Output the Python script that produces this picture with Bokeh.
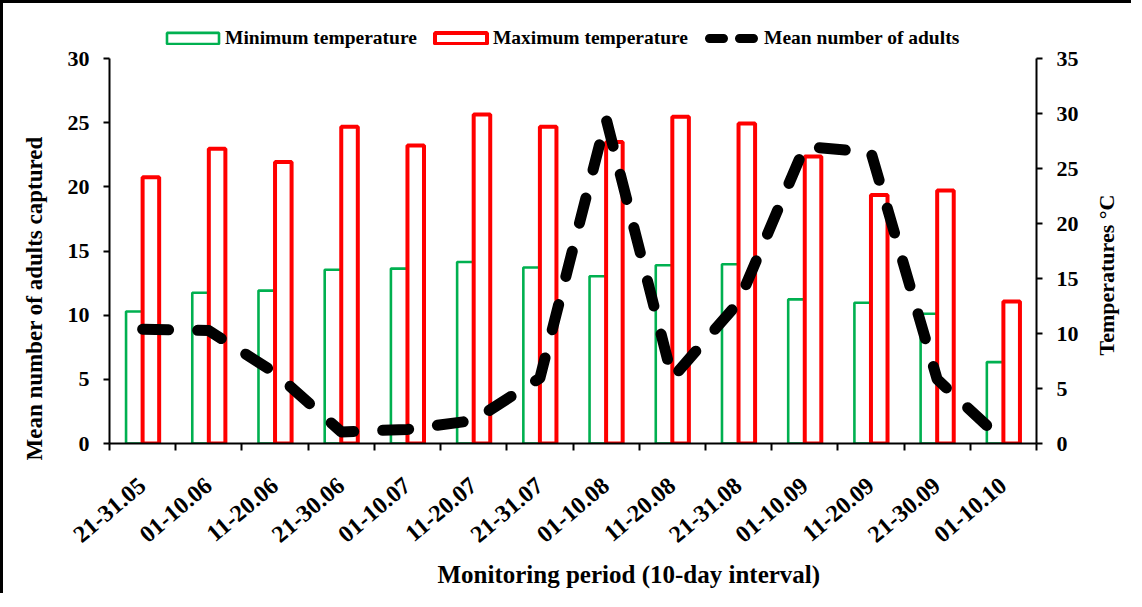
import math
import numpy as np
from bokeh.plotting import figure
from bokeh.models import (Range1d, LinearAxis, FixedTicker, SingleIntervalTicker,
                          CustomJSTickFormatter, Legend, LegendItem, ColumnDataSource, Title)
from bokeh.transform import dodge
from bokeh.embed import file_html
from bokeh.resources import INLINE

periods = ["21-31.05", "01-10.06", "11-20.06", "21-30.06", "01-10.07", "11-20.07",
           "21-31.07", "01-10.08", "11-20.08", "21-31.08", "01-10.09", "11-20.09",
           "21-30.09", "01-10.10"]
min_temp = [12.0, 13.7, 13.9, 15.8, 15.9, 16.5, 16.0, 15.2, 16.2, 16.3, 13.1, 12.8, 11.8, 7.4]
max_temp = [24.2, 26.8, 25.6, 28.8, 27.1, 29.9, 28.8, 27.4, 29.7, 29.1, 26.1, 22.6, 23.0, 12.9]
mean_adults = [8.9, 8.8, 5.5, 0.9, 1.1, 1.8, 5.1, 25.3, 5.1, 11.0, 23.15, 22.7, 5.0, 0.2]
left_max, right_max = 30, 35

FONT = "Liberation Serif"
GREEN = "#00B050"
RED = "#FF0000"

# layout (pixels): frame spans from top 30 to bottom 451 on the page; the axes occupy 66..451
FRAME_TOP, AXIS_TOP, AXIS_BOTTOM = 30, 66, 451
stretch = (AXIS_BOTTOM - FRAME_TOP) / (AXIS_BOTTOM - AXIS_TOP)

n = len(periods)
xc = np.arange(n) + 0.5
src = ColumnDataSource(dict(x=xc, period=periods, tmin=min_temp, tmax=max_temp, adults=mean_adults))

p = figure(width=1131, height=593, output_backend="svg", toolbar_location=None,
           x_range=Range1d(0, n), y_range=Range1d(0, left_max * stretch),
           min_border_left=106, min_border_right=90, min_border_top=FRAME_TOP - 11,
           min_border_bottom=153,
           styles={"border-left": "3px solid black", "border-top": "3px solid black"})
p.outline_line_color = None
p.xgrid.visible = False
p.ygrid.visible = False
p.background_fill_color = "white"
p.border_fill_color = "white"

p.extra_y_ranges = {"temp": Range1d(0, right_max * stretch)}

g_min = p.vbar(x=dodge("x", -0.125), top="tmin", bottom=0, width=0.25, source=src,
               y_range_name="temp", fill_color="white", line_color=GREEN, line_width=2.6)
g_max = p.vbar(x=dodge("x", 0.125), top="tmax", bottom=0, width=0.25, source=src,
               y_range_name="temp", fill_color="white", line_color=RED, line_width=4)
g_line = p.line(x="x", y="adults", source=src, line_color="black", line_width=11,
                line_dash="26 29", line_cap="round", line_join="round")
leg_line = p.line(x="x", y="adults", source=src, line_color="black", line_width=9,
                  line_dash="14 16", line_dash_offset=20, line_cap="round", visible=False)


def style_axis(ax):
    ax.axis_line_color = "black"
    ax.axis_line_width = 2
    ax.major_tick_line_color = "black"
    ax.major_tick_line_width = 2
    ax.minor_tick_line_color = None
    ax.major_label_text_font = FONT
    ax.major_label_text_font_style = "bold"
    ax.major_label_text_font_size = "22px"
    ax.major_label_text_color = "black"
    ax.axis_label_text_font = FONT
    ax.axis_label_text_font_style = "bold"
    ax.axis_label_text_color = "black"


def style_title(t, size):
    t.text_font = FONT
    t.text_font_style = "bold"
    t.text_font_size = size
    t.text_color = "black"


ya = p.yaxis[0]
style_axis(ya)
ya.ticker = SingleIntervalTicker(interval=5)
ya.bounds = (0, left_max)
ya.major_tick_out = 6
ya.major_tick_in = 0
ya.major_label_standoff = 14

ytitle = Title(text="Mean number of adults captured", align="left", offset=-17,
               vertical_align="middle", standoff=33)
style_title(ytitle, "23px")
p.add_layout(ytitle, "left")

ra = LinearAxis(y_range_name="temp", ticker=SingleIntervalTicker(interval=5))
style_axis(ra)
ra.bounds = (0, right_max)
ra.major_tick_out = 6
ra.major_tick_in = 0
ra.major_label_standoff = 14
ra.axis_label = "\u00a0" * 16 + "Temperatures °C"
ra.axis_label_text_font_size = "22px"
ra.axis_label_standoff = 25
try:
    ra.axis_label_orientation = math.pi / 2
    ra.axis_label_align = "start"
except Exception:
    pass
p.add_layout(ra, "right")

xa = p.xaxis[0]
style_axis(xa)
xa.ticker = FixedTicker(ticks=list(xc), minor_ticks=list(range(n + 1)))
xa.formatter = CustomJSTickFormatter(args=dict(labels=periods),
                                     code="return labels[Math.floor(tick)];")
xa.major_tick_out = 0
xa.major_tick_in = 0
xa.minor_tick_line_color = "black"
xa.minor_tick_line_width = 2
xa.minor_tick_out = 7
xa.minor_tick_in = 0
xa.major_label_orientation = 0.7
xa.major_label_text_font_size = "24px"
xa.major_label_standoff = 32

xtitle = Title(text="Monitoring period (10-day interval)", align="left", offset=328,
               vertical_align="bottom", standoff=13)
style_title(xtitle, "25px")
p.add_layout(xtitle, "below")

legend = Legend(items=[
    LegendItem(label="Minimum temperature", renderers=[g_min]),
    LegendItem(label="Maximum temperature", renderers=[g_max]),
    LegendItem(label="Mean number of adults", renderers=[leg_line]),
], orientation="horizontal", location=(51, 394))
legend.label_text_font = FONT
legend.label_text_font_style = "bold"
legend.label_text_font_size = "19.5px"
legend.label_text_color = "black"
legend.glyph_width = 65
legend.glyph_height = 14
legend.label_standoff = 0
legend.spacing = 11
legend.padding = 0
legend.margin = 0
legend.border_line_color = None
legend.background_fill_alpha = 0
legend.click_policy = "none"
p.add_layout(legend, "center")

open("out.html", "w").write(file_html(p, INLINE))
